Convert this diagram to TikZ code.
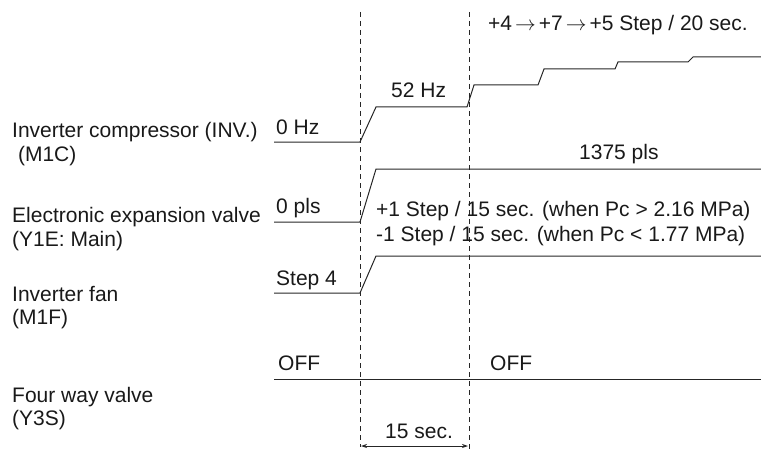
\documentclass[tikz,border=0pt]{standalone}
\usepackage{fontspec}
\setmainfont{Liberation Sans}
\usetikzlibrary{arrows.meta}
\begin{document}
\begin{tikzpicture}[x=1pt,y=-1pt,
  lbl/.style={anchor=base west,inner sep=0pt,font=\fontsize{21}{24}\selectfont,text=black!90},
  sig/.style={line width=1pt,draw=black!85},
  guide/.style={line width=0.9pt,draw=black!85,dash pattern=on 5pt off 4pt},
  dim/.style={line width=0.8pt,draw=black!85,{Stealth[length=6pt,width=4pt]}-{Stealth[length=6pt,width=4pt]}}]
\useasboundingbox (0,0) rectangle (761,452);
% guides
\draw[guide] (360,12) -- (360,447);
\draw[guide] (469,12) -- (469,452);
% compressor
\draw[sig] (274,142) -- (360,142) -- (376,107) -- (467,107) -- (474,85) -- (538,85) -- (544,69) -- (615,69) -- (618,62) -- (688,62) -- (693,57) -- (761,57);
% EEV
\draw[sig] (274,222) -- (360,222) -- (376,169) -- (761,169);
% fan
\draw[sig] (274,293) -- (360,293) -- (376,256) -- (761,256);
% four way valve
\draw[sig] (274,379) -- (761,379);
% left labels
\node[lbl] (l1a) at (12,137) {Inverter compressor (INV.)};
\node[lbl] (l1b) at (12,161) {\ (M1C)};
\node[lbl] (l2a) at (12,222) {Electronic expansion valve};
\node[lbl] (l2b) at (12,246) {(Y1E: Main)};
\node[lbl] (l3a) at (12,301) {Inverter fan};
\node[lbl] (l3b) at (12,324) {(M1F)};
\node[lbl] (l4a) at (12,402) {Four way valve};
\node[lbl] (l4b) at (12,425) {(Y3S)};
% signal labels
\node[lbl] (hz0) at (276,134) {0 Hz};
\node[lbl] (hz52) at (391,98) {52 Hz};
\node[lbl] (steps) at (488,31) {+4\kern3pt$\rightarrow$\kern3pt+7\kern3pt$\rightarrow$\kern3pt+5 Step / 20 sec.};
\node[lbl] (pls1375) at (579,159) {1375 pls};
\node[lbl] (pls0) at (276,213) {0 pls};
\node[lbl] (up) at (376,216) {+1 Step / 15 sec. (when Pc > 2.16 MPa)};
\node[lbl] (down) at (376,241) {-1 Step / 15 sec. (when Pc < 1.77 MPa)};
\node[lbl] (st4) at (276,285) {Step 4};
\node[lbl] (off1) at (278,370) {OFF};
\node[lbl] (off2) at (490,370) {OFF};
\node[lbl] (sec15) at (385,438) {15 sec.};
% dimension
\coordinate (da) at (361,446);
\coordinate (db) at (468,446);
\draw[dim] (da) -- (db);
\end{tikzpicture}
\end{document}
